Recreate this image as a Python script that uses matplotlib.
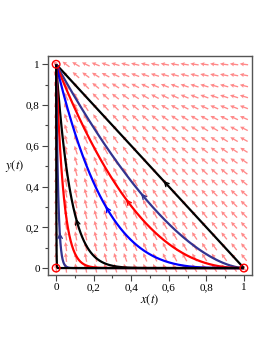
import numpy as np
from matplotlib import pyplot as plt

# trajectories y = (1 - x)^n
exponents = [1.0, 1.67, 2.33, 3.9, 12.6, 25.0, 90.0, 1000.0]
colors = ["black", "#33338f", "red", "blue", "black", "red", "#33338f", "black"]
arrow_at = [0.58, 0.46, 0.38, 0.27, 0.11, None, 0.02, None]

# equilibria (red circles)
eq_x = [0, 1, 0]
eq_y = [0, 0, 1]

ticks = [0, 0.2, 0.4, 0.6, 0.8, 1]
tick_labels = ["0", "0,2", "0,4", "0,6", "0,8", "1"]


def field(x, y):
    u = -(0.1 + 0.8 * x)
    v = 1.1 - y
    return u, v


plt.rcParams["font.family"] = ["Liberation Serif", "DejaVu Serif"]
plt.rcParams["mathtext.fontset"] = "stix"

fig = plt.figure(figsize=(2.73, 3.53), dpi=100)
ax = fig.add_axes([0.176, 0.221, 0.747, 0.620])

# direction field
gx, gy = np.meshgrid(np.linspace(0, 1, 20), np.linspace(0, 1, 20))
u, v = field(gx, gy)
nrm = np.hypot(u, v)
ax.quiver(gx, gy, u / nrm, v / nrm, color="#ff3b3b", alpha=0.6,
          pivot="mid", angles="xy", scale_units="xy", scale=1 / 0.045,
          width=0.0065, headwidth=3.2, headlength=3.2, headaxislength=2.8,
          zorder=1)

xs = np.concatenate([np.geomspace(1e-6, 0.1, 400), np.linspace(0.1, 1, 300)])
xs = np.concatenate([[0.0], xs])
for n, c, xa in zip(exponents, colors, arrow_at):
    ys = (1 - xs) ** n
    ax.plot(xs, ys, color=c, lw=1.6, zorder=3, solid_capstyle="butt")
    if xa is not None:
        ya = (1 - xa) ** n
        slope = -n * (1 - xa) ** (n - 1)
        d = np.array([-1.0, -slope])
        d = d / np.hypot(*d) * 0.012
        ax.annotate("", xy=(xa + d[0], ya + d[1]), xytext=(xa - d[0], ya - d[1]),
                    arrowprops=dict(arrowstyle="->", color=c, lw=1.0,
                                    mutation_scale=8), zorder=4)

ax.scatter(eq_x, eq_y, s=30, facecolors="none", edgecolors="red",
           linewidths=1.0, zorder=5, clip_on=False)

ax.set_xlim(-0.043, 1.043)
ax.set_ylim(-0.034, 1.04)
ax.set_xticks(ticks)
ax.set_xticklabels(tick_labels)
ax.set_yticks(ticks)
ax.set_yticklabels(tick_labels)
ax.set_xticks(np.arange(0.1, 1.0, 0.2), minor=True)
ax.set_yticks(np.arange(0.1, 1.0, 0.2), minor=True)
ax.tick_params(which="both", direction="out", labelsize=8, colors="#444444",
               labelcolor="black", width=0.8)
ax.tick_params(which="major", length=4, pad=2)
ax.tick_params(which="minor", length=2)
for s in ax.spines.values():
    s.set_color("#555555")
    s.set_linewidth(1.0)

ax.set_xlabel("$x(t)$", fontsize=9, labelpad=0)
ax.set_ylabel("$y(t)$", fontsize=9, rotation=0, labelpad=8, va="center")

fig.savefig("out.png", dpi=100)
